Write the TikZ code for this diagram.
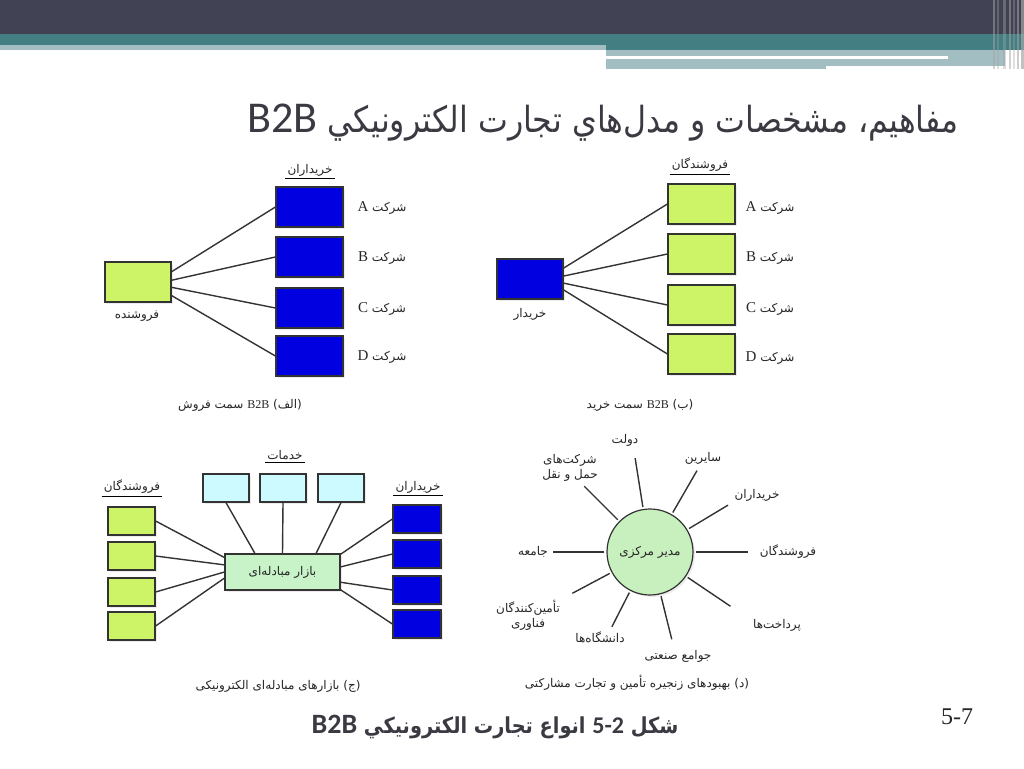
\documentclass[tikz,border=0pt]{standalone}
\usepackage{fontspec}
\usepackage{tikz}
\usetikzlibrary{shadows}
\TeXXeTstate=1
\setmainfont{Liberation Serif}
\newfontfamily\arabicfont[Script=Arabic]{DejaVu Sans}
\newfontfamily\arabicnarrow[Script=Arabic,FakeStretch=0.88]{DejaVu Sans}
\newfontfamily\headfont{Carlito}
\newcommand{\fa}[1]{{\arabicfont\beginR #1\endR}}
\newcommand{\fanarrow}[1]{{\arabicnarrow\beginR #1\endR}}
\newcommand{\ltr}[1]{\beginL{\rmfamily #1}\endL}
\definecolor{hdark}{RGB}{66,66,85}
\definecolor{hteal}{RGB}{67,126,130}
\definecolor{hlight}{RGB}{163,190,194}
\definecolor{titlegray}{RGB}{58,58,66}
\definecolor{limeg}{RGB}{204,244,102}
\definecolor{boxblue}{RGB}{0,0,225}
\definecolor{servcyan}{RGB}{204,250,255}
\definecolor{mktgreen}{RGB}{200,242,200}
\definecolor{hubgreen}{RGB}{200,240,190}

\begin{document}
\begin{tikzpicture}[x=1pt,y=-1pt,
  box/.style={draw=black!80,line width=1.2pt,inner sep=0pt,
    drop shadow={shadow xshift=2pt,shadow yshift=-2pt,fill=black!15}},
  sellbox/.style={box,fill=limeg},
  buybox/.style={box,fill=boxblue},
  servbox/.style={box,fill=servcyan},
  lbl/.style={font=\fontsize{12}{15}\selectfont,text=black!85,inner sep=1pt},
  hdr/.style={lbl,inner sep=2pt},
  link/.style={draw=black!80,line width=1.4pt}]
\useasboundingbox (0,0) rectangle (1024,768);
%header bars
\fill[hdark] (0,0) rectangle (1024,34);
\fill[hteal] (0,34) rectangle (1024,45);
\fill[hteal] (606,45) rectangle (1024,50);
\fill[hlight] (0,45) rectangle (606,50);
\fill[hlight] (606,50) rectangle (1005,66);
\fill[hlight] (606,66) rectangle (826,69);
\fill[white] (606,56) rectangle (948,59);
\foreach \x/\w/\o in {993/2/.5,997/1.5/.35,1003/3/.4,1009/1.5/.5,1013/1.5/.35,1017/2/.55,1021/3/.7}
  \fill[gray!70,opacity=\o] (\x,0) rectangle (\x+\w,69);
\node[anchor=east,text=titlegray,font=\fontsize{36}{40}\selectfont] (title) at (962,123)
  {\fanarrow{مفاهیم، مشخصات و مدل‌هاي تجارت الكترونيكي \ltr{\headfont\fontsize{44}{44}\selectfont B2B}}};

%sell-side
\node[sellbox,minimum width=66pt,minimum height=40pt] (sel) at (138,282) {};
\node[lbl] (selname) at (137,316) {\fa{فروشنده}};
\node[hdr] (abhdr) at (310,170) {\fa{خریداران}};
\draw (abhdr.south west) -- (abhdr.south east);
\foreach \n/\y in {A/207,B/257,C/308,D/356}{
  \node[buybox,minimum width=67pt,minimum height=40pt] (ab\n) at (309.5,\y) {};
  \node[lbl] (abl\n) at (382,\y+1) {\fa{شرکت \ltr{\fontsize{15}{15}\selectfont\n}}};
}
\foreach \n/\a in {A/17,B/3,C/-9,D/-22}
  \draw[link] (sel.\a) -- (ab\n.west);
\node[lbl] (acap) at (240,405) {\fa{(الف) \ltr{B2B} سمت فروش}};

%buy-side
\node[buybox,minimum width=66pt,minimum height=40pt] (buy) at (530,279) {};
\node[lbl] (buyname) at (530,314) {\fa{خریدار}};
\node[hdr] (bshdr) at (700,165) {\fa{فروشندگان}};
\draw (bshdr.south west) -- (bshdr.south east);
\foreach \n/\y in {A/204,B/254,C/305,D/354}{
  \node[sellbox,minimum width=67pt,minimum height=40pt] (bs\n) at (701.5,\y) {};
  \node[lbl] (bsl\n) at (770,\y+4) {\fa{شرکت \ltr{\fontsize{15}{15}\selectfont\n}}};
}
\foreach \n/\a in {A/18,B/5,C/-7,D/-18}
  \draw[link] (buy.\a) -- (bs\n.west);
\node[lbl] (bcap) at (640,405) {\fa{(ب) \ltr{B2B} سمت خرید}};

%exchanges
\node[box,fill=mktgreen,minimum width=115pt,minimum height=36pt,lbl] (mkt) at (282.5,572) {\fa{بازار مبادله‌ای}};
\node[hdr] (cshdr) at (132,487) {\fa{فروشندگان}};
\draw (cshdr.south west) -- (cshdr.south east);
\node[hdr] (cvhdr) at (285,455) {\fa{خدمات}};
\draw (cvhdr.south west) -- (cvhdr.south east);
\node[hdr] (cbhdr) at (418,487) {\fa{خریداران}};
\draw (cbhdr.south west) -- (cbhdr.south east);
\foreach \i/\y/\a in {1/521/166,2/556/173,3/592/180,4/626/186}{
  \node[sellbox,minimum width=47pt,minimum height=28pt] (cs\i) at (131.5,\y) {};
  \draw[link] (cs\i.east) -- (mkt.\a);
}
\foreach \i/\x/\a in {1/226/146,2/283/90,3/341/29}{
  \node[servbox,minimum width=46pt,minimum height=28pt] (cv\i) at (\x,488) {};
  \draw[link] (cv\i.south) -- (mkt.\a);
}
\foreach \i/\y/\a in {1/519/17,2/554/5,3/590/-10,4/624/-17}{
  \node[buybox,minimum width=48pt,minimum height=28pt] (cb\i) at (417,\y) {};
  \draw[link] (mkt.\a) -- (cb\i.west);
}
\node[lbl] (ccap) at (278,686) {\fa{(ج) بازارهای مبادله‌ای الکترونیکی}};

%supply chain hub
\node[circle,draw=black!80,line width=1.2pt,fill=hubgreen,minimum size=86pt,lbl,
  drop shadow={shadow xshift=2pt,shadow yshift=-2pt,fill=black!15}] (hub) at (650,552) {\fa{مدیر مرکزی}};
\foreach \a/\r/\n in {99/95/d1,60/94/d2,31/91/d3,0/98/d4,-34/97/d5,-76/90/d6,-117/84/d7,-152/88/d8,180/97/d9,135/93/d10}{
  \coordinate (\n) at ([shift={(\a:\r pt)}]hub.center);
  \draw[link] ([shift={(\a:2pt)}]hub.\a) -- (\n);
}
\node[lbl] (dlt) at (625,440) {\fa{دولت}};
\node[lbl] (oth) at (703,458) {\fa{سایرین}};
\node[lbl] (byr) at (757,495) {\fa{خریداران}};
\node[lbl] (slr) at (788,552) {\fa{فروشندگان}};
\node[lbl] (pay) at (777,625) {\fa{پرداخت‌ها}};
\node[lbl] (ind) at (678,656) {\fa{جوامع صنعتی}};
\node[lbl] (uni) at (600,637) {\fa{دانشگاه‌ها}};
\node[lbl,align=center] (tec) at (528,615) {\fa{تأمین‌کنندگان}\\\fa{فناوری}};
\node[lbl] (soc) at (533,552) {\fa{جامعه}};
\node[lbl,align=center] (trn) at (570,468) {\fa{شرکت‌های}\\\fa{حمل و نقل}};
\node[lbl] (dcap) at (637,683) {\fa{(د) بهبودهای زنجیره تأمین و تجارت مشارکتی}};

%footer
\node[text=titlegray,font=\fontsize{22}{26}\selectfont\bfseries] (foot) at (495,727)
  {\fanarrow{شکل \ltr{\headfont\fontsize{24}{24}\selectfont 5-2} انواع تجارت الكترونيكي \ltr{\headfont\fontsize{28}{28}\selectfont B2B}}};
\node[text=black!85,font=\fontsize{24}{28}\selectfont] (pg) at (957,717) {5-7};
\end{tikzpicture}
\end{document}
